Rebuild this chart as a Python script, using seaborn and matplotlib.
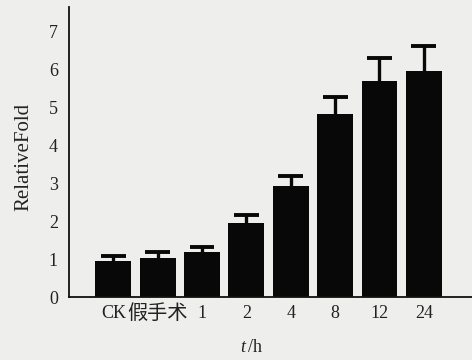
import numpy as np
import pandas as pd
import matplotlib
matplotlib.use("Agg")
import matplotlib.pyplot as plt
import seaborn as sns

# values
groups = ["CK", "假手术", "1", "2", "4", "8", "12", "24"]
fold = [0.96, 1.03, 1.18, 1.95, 2.94, 4.83, 5.71, 5.97]
err = [0.12, 0.15, 0.15, 0.22, 0.26, 0.44, 0.61, 0.66]
yticks = [0, 1, 2, 3, 4, 5, 6, 7]

bg = "#eeeeec"
ink = "#080808"

sns.set_style("white")
plt.rcParams["font.family"] = ["Liberation Serif", "Noto Sans CJK SC"]
plt.rcParams["mathtext.fontset"] = "custom"
plt.rcParams["mathtext.rm"] = "Liberation Serif"
plt.rcParams["mathtext.it"] = "Liberation Serif:italic"

df = pd.DataFrame({"group": groups, "fold": fold, "err": err})
df["top"] = df["fold"] + df["err"]

fig = plt.figure(figsize=(4.72, 3.6), dpi=100, facecolor=bg)
ax = fig.add_axes([0.146, 0.175, 0.854, 0.806], facecolor=bg)

sns.barplot(data=df, x="group", y="fold", color=ink, width=0.81,
            saturation=1, ax=ax, errorbar=None, linewidth=0, edgecolor="none")

# upper error bars only (stem + cap)
x = np.arange(len(groups))
ax.vlines(x, df["fold"], df["top"], color=ink, linewidth=2.4)
ax.hlines(df["top"], x - 0.28, x + 0.28, color=ink, linewidth=2.8)

ax.set_xlim(-1, 8.085)
ax.set_ylim(0, 7.66)
ax.set_yticks(yticks)
ax.tick_params(axis="y", direction="in", length=4, width=1.2, labelsize=13,
               pad=8, colors="#222222")
ax.tick_params(axis="x", length=0, labelsize=13, pad=6, colors="#222222")
ax.get_xticklabels()[1].set_fontsize(14.5)
for s in ["top", "right"]:
    ax.spines[s].set_visible(False)
for s in ["left", "bottom"]:
    ax.spines[s].set_linewidth(1.3)
    ax.spines[s].set_color("#111111")

ax.set_xlabel(r"$t\,$/h", fontsize=13, color="#222222")
ax.xaxis.set_label_coords(0.454, -0.145)
ax.set_ylabel("RelativeFold", fontsize=15, color="#222222")
ax.yaxis.set_label_coords(-0.087, 0.483)

fig.savefig("out.png", dpi=100, facecolor=bg)
